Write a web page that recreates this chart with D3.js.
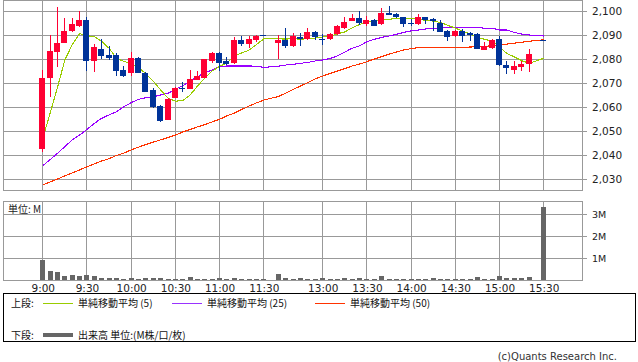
<!DOCTYPE html>
<html>
<head>
<meta charset="utf-8">
<script src="https://cdn.jsdelivr.net/npm/d3@7"></script>
<style>
  body { margin: 0; background: #fff; }
  svg { display: block; font-family: "DejaVu Sans", sans-serif; }
  .jp { font-family: "Noto Sans CJK JP", sans-serif; }
</style>
</head>
<body>
<script>
// 5-minute bars: morning 9:00-11:30, afternoon 12:30-15:20, closing auction 15:30
function session(from, to) {
    const toMin = s => { const [h, m] = s.split(":").map(Number); return h * 60 + m; };
    return d3.range(toMin(from), toMin(to) + 1, 5).map(t => Math.floor(t / 60) + ":" + String(t % 60).padStart(2, "0"));
}
const times = [...session("9:00", "11:30"), ...session("12:30", "15:20"), "15:30"];

const open = [
    2042.6, 2072.2, 2083.0, 2086.8, 2091.7, 2093.8, 2096.3, 2079.2, 2084.2, 2081.7, 2081.7, 2075.4, 2074.0, 2080.5, 2074.3, 2067.1,
    2060.4, 2054.6, 2063.9, 2067.8, 2067.5, 2071.3, 2072.2, 2079.2, 2082.4, 2079.2, 2078.2, 2087.9, 2086.3, 2087.9, 2090.0,
    2086.8, 2087.9, 2085.5, 2089.0, 2088.3, 2091.1, 2088.2, 2088.2, 2090.3, 2092.8, 2096.0, 2097.2, 2094.6, 2096.3, 2094.5, 2099.3,
    2098.8, 2097.4, 2094.9, 2094.6, 2097.4, 2096.5, 2095.1, 2091.7, 2089.7, 2091.7, 2090.7, 2090.4, 2083.8, 2084.5, 2088.3, 2077.5,
    2075.4, 2076.8, 2077.8,
    2087.9];
const high = [
    2075.4, 2090.0, 2101.8, 2097.0, 2097.2, 2100.0, 2097.6, 2086.1, 2088.3, 2085.4, 2082.4, 2077.1, 2082.8, 2081.0, 2074.7, 2067.8,
    2060.8, 2063.6, 2068.2, 2070.5, 2075.4, 2075.0, 2080.0, 2083.0, 2083.0, 2080.7, 2089.3, 2089.6, 2089.6, 2089.9, 2090.0,
    2090.0, 2092.8, 2090.7, 2090.7, 2093.0, 2091.8, 2090.4, 2090.7, 2094.2, 2097.6, 2098.8, 2100.0, 2097.9, 2096.5, 2101.1, 2102.1,
    2099.3, 2097.6, 2096.7, 2098.8, 2097.6, 2097.0, 2096.3, 2092.1, 2092.1, 2092.4, 2091.4, 2090.7, 2087.0, 2088.2, 2089.6, 2079.2,
    2079.2, 2079.2, 2084.2,
    2087.9];
const low = [
    2041.4, 2064.3, 2076.8, 2086.5, 2091.4, 2093.5, 2075.0, 2074.7, 2080.0, 2079.6, 2072.9, 2072.6, 2073.0, 2074.0, 2066.3, 2059.5,
    2053.9, 2054.6, 2063.6, 2066.4, 2067.4, 2071.3, 2072.0, 2078.2, 2075.1, 2077.5, 2077.9, 2085.4, 2084.5, 2087.0, 2090.0,
    2079.9, 2084.5, 2085.1, 2085.5, 2087.9, 2087.9, 2085.8, 2087.9, 2090.0, 2092.5, 2095.8, 2094.2, 2093.8, 2093.8, 2094.2, 2098.3,
    2097.0, 2093.5, 2093.8, 2094.2, 2094.6, 2091.8, 2091.1, 2087.6, 2089.0, 2087.0, 2087.5, 2084.0, 2083.8, 2084.2, 2077.2, 2073.8,
    2073.8, 2075.0, 2074.7,
    2087.9];
const close = [
    2072.2, 2083.5, 2086.8, 2091.7, 2094.6, 2096.3, 2079.2, 2085.1, 2081.4, 2080.5, 2075.1, 2073.0, 2080.3, 2074.3, 2066.4, 2060.1,
    2054.3, 2063.3, 2068.0, 2067.8, 2071.7, 2072.9, 2080.0, 2082.4, 2078.2, 2077.8, 2087.9, 2086.3, 2088.3, 2089.6, 2090.0,
    2087.9, 2085.5, 2089.6, 2088.2, 2091.1, 2089.0, 2088.2, 2090.4, 2093.8, 2095.3, 2097.2, 2095.1, 2096.3, 2093.9, 2099.0, 2098.3,
    2097.6, 2094.5, 2094.9, 2097.4, 2096.3, 2095.8, 2091.4, 2089.3, 2091.7, 2089.7, 2090.0, 2084.2, 2085.5, 2087.9, 2077.5, 2076.4,
    2077.1, 2077.8, 2082.1,
    2087.9];

// moving averages as drawn on the chart (they carry over from the previous day)
const ma5 = [
    2047.0, 2057.4, 2068.2, 2079.6, 2086.0, 2090.6, 2089.7, 2089.4, 2087.3, 2084.5, 2080.3, 2079.0, 2078.1, 2076.6, 2073.8, 2070.8,
    2067.1, 2063.7, 2062.4, 2062.7, 2065.0, 2068.7, 2072.1, 2075.0, 2077.0, 2078.3, 2081.3, 2082.5, 2083.7, 2086.0, 2088.4,
    2088.4, 2088.3, 2088.5, 2088.2, 2088.5, 2088.7, 2089.2, 2089.4, 2090.5, 2091.3, 2093.0, 2094.4, 2095.5, 2095.6, 2096.3, 2096.5,
    2097.0, 2096.7, 2096.9, 2096.5, 2096.1, 2095.8, 2095.2, 2094.0, 2092.9, 2091.6, 2090.4, 2089.0, 2088.2, 2087.5, 2085.0, 2082.3,
    2080.9, 2079.3, 2078.2,
    2080.3];
const ma25 = [
    2035.5, 2038.1, 2040.7, 2043.5, 2046.3, 2048.3, 2050.7, 2053.2, 2055.3, 2056.7, 2058.0, 2060.1, 2061.8, 2063.2, 2063.9, 2064.3,
    2065.0, 2065.7, 2067.4, 2068.8, 2070.8, 2072.6, 2074.3, 2075.4, 2076.8, 2077.1, 2077.1, 2077.1, 2077.1, 2077.0, 2076.5,
    2077.0, 2077.5, 2077.8, 2078.2, 2078.6, 2079.2, 2079.6, 2080.2, 2081.3, 2082.9, 2084.5, 2085.5, 2087.2, 2088.2, 2089.0, 2089.6,
    2090.3, 2091.1, 2091.7, 2092.1, 2092.5, 2092.8, 2093.0, 2093.2, 2093.2, 2093.2, 2093.2, 2093.2, 2092.8, 2092.8, 2092.1, 2092.1,
    2091.1, 2090.4, 2090.0,
    2089.6];
const ma50 = [
    2027.5, 2028.8, 2030.0, 2031.3, 2032.5, 2033.8, 2035.1, 2036.3, 2037.5, 2038.5, 2039.8, 2040.8, 2042.1, 2043.3, 2044.4, 2045.4,
    2046.3, 2047.3, 2048.3, 2049.6, 2050.6, 2051.7, 2052.7, 2053.8, 2054.9, 2056.3, 2057.5, 2059.0, 2060.4, 2061.7, 2062.9,
    2064.4, 2065.8, 2067.3, 2068.8, 2070.2, 2071.7, 2072.9, 2074.0, 2075.0, 2076.0, 2077.1, 2077.9, 2078.9, 2080.0, 2081.0, 2082.0,
    2082.9, 2083.8, 2084.3, 2084.8, 2084.9, 2084.9, 2084.9, 2084.9, 2084.9, 2084.9, 2085.0, 2085.1, 2085.3, 2085.5, 2085.8, 2086.2,
    2086.6, 2087.0, 2087.4,
    2088.0];

// volume, millions
const volume = [
    0.91, 0.41, 0.36, 0.20, 0.23, 0.18, 0.23, 0.18, 0.09, 0.09, 0.09, 0.06, 0.09, 0.05, 0.09, 0.09,
    0.09, 0.05, 0.05, 0.05, 0.14, 0.05, 0.05, 0.05, 0.09, 0.05, 0.09, 0.05, 0.05, 0.05, 0.03,
    0.27, 0.09, 0.06, 0.09, 0.06, 0.06, 0.09, 0.05, 0.05, 0.09, 0.05, 0.09, 0.05, 0.05, 0.16, 0.05,
    0.05, 0.05, 0.05, 0.05, 0.05, 0.09, 0.05, 0.05, 0.05, 0.05, 0.05, 0.14, 0.05, 0.05, 0.20, 0.09,
    0.09, 0.09, 0.14,
    3.30];

const timeTicks = ["9:00", "9:30", "10:00", "10:30", "11:00", "11:30", "13:00", "13:30", "14:00", "14:30", "15:00", "15:30"];
const priceTicks = [2030, 2040, 2050, 2060, 2070, 2080, 2090, 2100];
const volumeTicks = [1, 2, 3];

const width = 638, height = 362;
const bars = times.map((t, i) => ({t, o: open[i], h: high[i], l: low[i], c: close[i], v: volume[i], m5: ma5[i], m25: ma25[i], m50: ma50[i]}));

// slot position on the time axis, lunch break compressed to one empty slot
function slot(t) {
    const [h, m] = t.split(":").map(Number);
    const min = h * 60 + m;
    return min <= 690 ? (min - 540) / 5 : (min - 750) / 5 + 32;
}

const x = d3.scaleLinear().domain([-5.33, 73.26]).range([3, 582]);
const y = d3.scaleLinear().domain([2025.42, 2104.17]).range([190, 1]);
const yv = d3.scaleLinear().domain([0, 3.545]).range([280, 202]);
const px = v => Math.round(v) + 0.5;

const red = "#ff0033", blue = "#003399", grid = "#999999";

const svg = d3.select("body").append("svg")
    .attr("width", width)
    .attr("height", height);

// grid, both panels
const gridG = svg.append("g").attr("stroke", grid).attr("stroke-width", 1).attr("shape-rendering", "crispEdges");
gridG.selectAll(".vx")
    .data(timeTicks)
    .enter().append("line")
    .attr("x1", d => px(x(slot(d)))).attr("x2", d => px(x(slot(d))))
    .attr("y1", 1).attr("y2", 190);
gridG.selectAll(".vv")
    .data(timeTicks)
    .enter().append("line")
    .attr("x1", d => px(x(slot(d)))).attr("x2", d => px(x(slot(d))))
    .attr("y1", 202).attr("y2", 280);
gridG.selectAll(".hp")
    .data(priceTicks)
    .enter().append("line")
    .attr("x1", 3).attr("x2", 587)
    .attr("y1", d => px(y(d))).attr("y2", d => px(y(d)));
gridG.selectAll(".hv")
    .data(volumeTicks)
    .enter().append("line")
    .attr("x1", 3).attr("x2", 587)
    .attr("y1", d => px(yv(d))).attr("y2", d => px(yv(d)));
gridG.append("rect").attr("x", 3.5).attr("y", 0.5).attr("width", 579).attr("height", 190).attr("fill", "none");
gridG.append("rect").attr("x", 3.5).attr("y", 201.5).attr("width", 579).attr("height", 79).attr("fill", "none");

// axis labels
svg.append("g").attr("font-size", "10.5px").attr("fill", "#222")
    .selectAll("text")
    .data(priceTicks)
    .enter().append("text")
    .attr("x", 592)
    .attr("y", d => Math.round(y(d)) + 4)
    .text(d => d3.format(",")(d));
svg.append("g").attr("font-size", "9.5px").attr("fill", "#222")
    .selectAll("text")
    .data(volumeTicks)
    .enter().append("text")
    .attr("x", 592)
    .attr("y", d => Math.round(yv(d)) + 4)
    .text(d => d + "M");
svg.append("g").attr("font-size", "10.5px").attr("fill", "#222").attr("text-anchor", "middle")
    .selectAll("text")
    .data(timeTicks)
    .enter().append("text")
    .attr("x", d => x(slot(d)) + 1)
    .attr("y", 291.5)
    .text(d => d);
svg.append("text").attr("class", "jp").attr("x", 8).attr("y", 213).attr("font-size", "10px").attr("fill", "#222").text("単位: M");

// volume bars
svg.append("g").attr("fill", "#666").attr("shape-rendering", "crispEdges")
    .selectAll("rect")
    .data(bars)
    .enter().append("rect")
    .attr("x", d => Math.round(x(slot(d.t))) - 2)
    .attr("width", 5)
    .attr("y", d => Math.min(279, Math.round(yv(d.v))))
    .attr("height", d => 280 - Math.min(279, Math.round(yv(d.v))));

// moving averages
const maLine = key => d3.line().x(d => x(slot(d.t)) + 0.5).y(d => y(d[key]));
[["m50", "#ff3300"], ["m25", "#9900ff"], ["m5", "#99cc00"]].forEach(([key, col]) => {
    svg.append("path")
        .datum(bars)
        .attr("d", maLine(key))
        .attr("fill", "none")
        .attr("stroke", col)
        .attr("stroke-width", 1.1)
        .attr("shape-rendering", "crispEdges");
});

// candles
const candle = svg.append("g").attr("shape-rendering", "crispEdges")
    .selectAll("g")
    .data(bars)
    .enter().append("g")
    .attr("fill", d => d.c > d.o ? red : blue)
    .attr("stroke", "none");
candle.append("rect")
    .attr("x", d => Math.round(x(slot(d.t))))
    .attr("width", 1)
    .attr("y", d => Math.round(y(d.h)))
    .attr("height", d => Math.max(1, Math.round(y(d.l)) - Math.round(y(d.h))));
candle.append("rect")
    .attr("x", d => Math.round(x(slot(d.t))) - 3)
    .attr("width", 6)
    .attr("y", d => Math.round(y(Math.max(d.o, d.c))))
    .attr("height", d => Math.max(1, Math.round(y(Math.min(d.o, d.c))) - Math.round(y(Math.max(d.o, d.c)))));

// legend
const lg = svg.append("g");
lg.append("rect").attr("x", 3.5).attr("y", 293.5).attr("width", 632).attr("height", 48)
    .attr("fill", "none").attr("stroke", "#000").attr("shape-rendering", "crispEdges");
const legendItems = [
    {label: "単純移動平均 (5)", color: "#99cc00", x: 43},
    {label: "単純移動平均 (25)", color: "#9933ff", x: 172},
    {label: "単純移動平均 (50)", color: "#ff3300", x: 315}
];
lg.append("text").attr("class", "jp").attr("x", 11).attr("y", 307).attr("font-size", "10px").attr("fill", "#111").text("上段:");
lg.selectAll(".ln")
    .data(legendItems)
    .enter().append("line")
    .attr("x1", d => d.x).attr("x2", d => d.x + 30)
    .attr("y1", 303.5).attr("y2", 303.5)
    .attr("stroke", d => d.color).attr("stroke-width", 1);
lg.selectAll(".lt")
    .data(legendItems)
    .enter().append("text")
    .attr("class", "jp")
    .attr("x", d => d.x + 35).attr("y", 307)
    .attr("font-size", "10px").attr("fill", "#111")
    .text(d => d.label);
lg.append("text").attr("class", "jp").attr("x", 11).attr("y", 339).attr("font-size", "10px").attr("fill", "#111").text("下段:");
lg.append("rect").attr("x", 43).attr("y", 333).attr("width", 30).attr("height", 4).attr("fill", "#666");
lg.append("text").attr("class", "jp").attr("x", 78).attr("y", 339).attr("font-size", "10px").attr("fill", "#111").text("出来高 単位:(M株/口/枚)");

svg.append("text").attr("x", 617).attr("y", 360).attr("text-anchor", "end")
    .attr("font-size", "10px").attr("fill", "#333").text("(c)Quants Research Inc.");
</script>
</body>
</html>
